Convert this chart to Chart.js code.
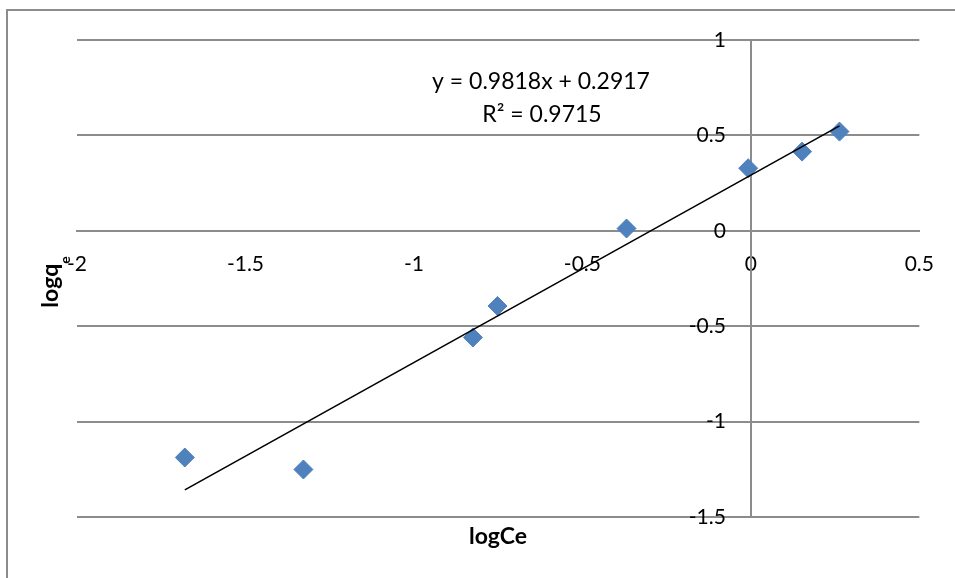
<!DOCTYPE html>
<html>
<head>
<meta charset="utf-8">
<script src="https://cdn.jsdelivr.net/npm/chart.js@4.4.1/dist/chart.umd.min.js"></script>
<style>
  html, body { margin: 0; padding: 0; background: #fff; }
  canvas { display: block; }
</style>
</head>
<body>
<canvas id="chart" width="955" height="578"></canvas>
<script>
// points
const logCe = [-1.680, -1.328, -0.825, -0.752, -0.369, -0.008, 0.152, 0.263];
const logQe = [-1.188, -1.251, -0.559, -0.394, 0.012, 0.328, 0.415, 0.520];

// linear trendline, ends at first and last point
const trendX = [-1.680, 0.263];
const trendY = [-1.358, 0.550];

const xTicks = [-2, -1.5, -1, -0.5, 0, 0.5];
const yTicks = [-1.5, -1, -0.5, 0, 0.5, 1];

const equation = 'y = 0.9818x + 0.2917';
const rSquared = 'R² = 0.9715';
const xTitle = 'logCe';
const yTitle = 'logq';
const yTitleSub = 'e';

const gray = '#8c8c8c';
const font = 'Lato, "Open Sans", sans-serif';

const extras = {
    id: 'extras',
    beforeDraw(c) {
        const ctx = c.ctx;
        ctx.save();
        ctx.strokeStyle = gray;
        ctx.lineWidth = 2;
        ctx.beginPath();
        ctx.moveTo(7, 600);
        ctx.lineTo(7, 10);
        ctx.lineTo(960, 10);
        ctx.stroke();
        ctx.restore();
    },
    afterDraw(c) {
        const ctx = c.ctx;
        const xs = c.scales.x, ys = c.scales.y;
        ctx.save();
        ctx.fillStyle = '#000';

        // y tick labels, left of the vertical axis
        ctx.font = '21px ' + font;
        ctx.textAlign = 'right';
        ctx.textBaseline = 'middle';
        const axisX = xs.getPixelForValue(0);
        yTicks.forEach(v => ctx.fillText(String(v), axisX - 25, ys.getPixelForValue(v)));

        ctx.textAlign = 'center';
        ctx.font = '23px ' + font;
        ctx.fillText(equation, 541, 82);
        ctx.fillText(rSquared, 542, 115);

        ctx.font = 'bold 23px ' + font;
        ctx.fillText(xTitle, 498, 537);

        // rotated y title with subscript
        ctx.translate(58, 282);
        ctx.rotate(-Math.PI / 2);
        ctx.textAlign = 'left';
        ctx.textBaseline = 'alphabetic';
        ctx.font = 'bold 23px ' + font;
        const w = ctx.measureText(yTitle).width;
        ctx.font = 'bold 14px ' + font;
        const ws = ctx.measureText(yTitleSub).width;
        const x0 = -(w + ws) / 2;
        ctx.font = 'bold 23px ' + font;
        ctx.fillText(yTitle, x0, 0);
        ctx.font = 'bold 14px ' + font;
        ctx.fillText(yTitleSub, x0 + w, 12);
        ctx.restore();
    }
};

new Chart(document.getElementById('chart'), {
    type: 'scatter',
    data: {
        datasets: [
            {
                label: 'trend',
                type: 'line',
                data: trendX.map((x, i) => ({ x: x, y: trendY[i] })),
                borderColor: '#000',
                borderWidth: 1.6,
                pointRadius: 0,
                fill: false,
                order: 0
            },
            {
                label: 'logqe',
                data: logCe.map((x, i) => ({ x: x, y: logQe[i] })),
                pointStyle: 'rectRot',
                pointRadius: 9.5,
                backgroundColor: '#4f81bd',
                borderColor: '#4f81bd',
                borderWidth: 1,
                order: 1
            }
        ]
    },
    options: {
        responsive: false,
        animation: false,
        layout: { padding: { left: 77, right: 34, top: 40, bottom: 61 } },
        plugins: {
            legend: { display: false },
            tooltip: { enabled: false }
        },
        scales: {
            x: {
                type: 'linear',
                position: { y: 0 },
                min: -2,
                max: 0.5,
                afterBuildTicks: s => { s.ticks = xTicks.map(v => ({ value: v })); },
                grid: { display: false, drawTicks: false },
                border: { color: gray, width: 2 },
                ticks: {
                    color: '#000', padding: 21,
                    font: { family: font, size: 21 },
                    callback: v => String(v)
                }
            },
            y: {
                type: 'linear',
                position: { x: 0 },
                min: -1.5,
                max: 1,
                afterBuildTicks: s => { s.ticks = yTicks.map(v => ({ value: v })); },
                grid: { color: gray, lineWidth: 2, drawTicks: false },
                border: { color: gray, width: 2 },
                ticks: { display: false }
            }
        }
    },
    plugins: [extras]
});
</script>
</body>
</html>
